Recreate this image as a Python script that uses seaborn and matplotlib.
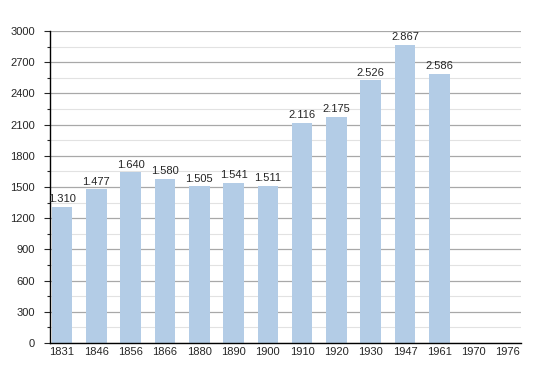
import numpy as np
import pandas as pd
import matplotlib
matplotlib.use('Agg')
import matplotlib.pyplot as plt
import seaborn as sns
from matplotlib.ticker import MultipleLocator

years = ['1831', '1846', '1856', '1866', '1880', '1890', '1900',
         '1910', '1920', '1930', '1947', '1961', '1970', '1976']
population = [1310, 1477, 1640, 1580, 1505, 1541, 1511,
              2116, 2175, 2526, 2867, 2586, np.nan, np.nan]

df = pd.DataFrame({'year': years, 'pop': population})

sns.set_style('white')
plt.rcParams['font.family'] = ['Liberation Sans', 'DejaVu Sans']

fig = plt.figure(figsize=(5.5, 3.73), dpi=100)
ax = fig.add_axes([50 / 550, 30 / 373, 471 / 550, 312 / 373])

sns.barplot(data=df, x='year', y='pop', color='#b3cce6', saturation=1,
            width=0.6, linewidth=0, ax=ax, zorder=3)

ax.set_ylim(0, 3000)
ax.set_xlim(-0.35, 13.38)
ax.yaxis.set_major_locator(MultipleLocator(300))
ax.yaxis.set_minor_locator(MultipleLocator(150))
ax.grid(which='major', axis='y', color='#a8a8a8', lw=0.9, zorder=0)
ax.grid(which='minor', axis='y', color='#e2e2e2', lw=0.8, zorder=0)
ax.set_axisbelow(True)

for s in ['top', 'right']:
    ax.spines[s].set_visible(False)
for s in ['left', 'bottom']:
    ax.spines[s].set_color('black')
    ax.spines[s].set_linewidth(1)
    ax.spines[s].set_zorder(4)

ax.tick_params(axis='y', which='major', length=4, width=0.8, labelsize=8, pad=7, direction='out', left=True)
ax.tick_params(axis='y', which='minor', length=2.5, width=0.8, left=True)
ax.tick_params(axis='x', length=0, labelsize=8, pad=3)
ax.set_xlabel('')
ax.set_ylabel('')

for i, v in enumerate(population):
    if not np.isnan(v):
        lab = f'{int(v):,}'.replace(',', '.')
        ax.text(i, v + 25, lab, ha='center', va='bottom', fontsize=8, zorder=5)

fig.savefig('out.png', dpi=100)
